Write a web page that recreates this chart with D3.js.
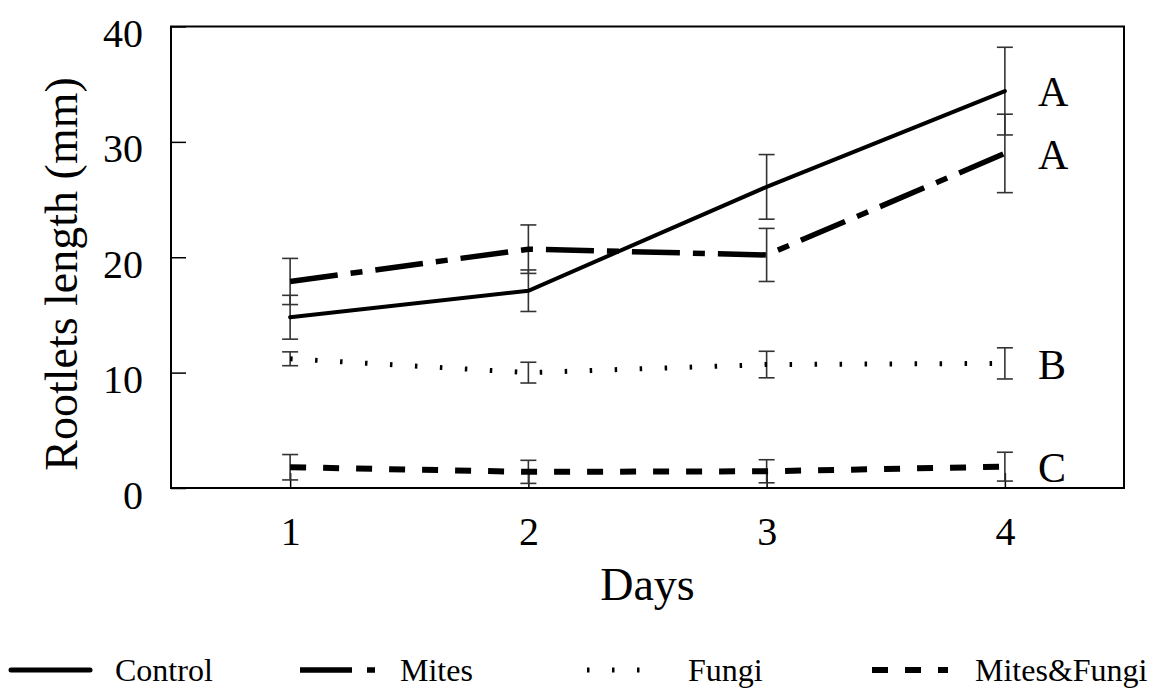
<!DOCTYPE html>
<html>
<head>
<meta charset="utf-8">
<script src="https://cdn.jsdelivr.net/npm/d3@7"></script>
<style>
  body { margin: 0; background: #fff; }
  svg text { font-family: "Liberation Serif", "Times New Roman", serif; fill: #000; }
</style>
</head>
<body>
<div id="graphic"></div>
<script>
// DATA
var days = [1, 2, 3, 4];
var yTicks = [0, 10, 20, 30, 40];

var control = [14.8, 17.1, 26.1, 34.4];
var controlErr = [1.9, 1.8, 2.8, 3.8];
var mites = [17.9, 20.7, 20.2, 29.0];
var mitesErr = [2.0, 2.1, 2.3, 3.4];
var fungi = [11.2, 10.0, 10.7, 10.8];
var fungiErr = [0.6, 0.9, 1.15, 1.35];
var mitesFungi = [1.8, 1.4, 1.45, 1.85];
var mitesFungiErr = [1.1, 1.0, 1.0, 1.25];

var seriesNames = ["Control", "Mites", "Fungi", "Mites&Fungi"];
var groupLetters = ["A", "A", "B", "C"];

// line styles per series
var styles = [
  { width: 4, dash: null, cap: "round" },
  { width: 5.5, dash: "48,13,12,13", cap: "butt" },
  { width: 5, dash: "2.5,22.5", cap: "butt" },
  { width: 6, dash: "16,17", cap: "butt" }
];

var series = seriesNames.map(function (name, i) {
  var vals = [control, mites, fungi, mitesFungi][i];
  var errs = [controlErr, mitesErr, fungiErr, mitesFungiErr][i];
  return {
    name: name,
    letter: groupLetters[i],
    style: styles[i],
    points: days.map(function (d, j) { return { day: d, value: vals[j], err: errs[j] }; })
  };
});

var W = 1150, H = 689;
var margin = { top: 26.5, right: 26, bottom: 201, left: 171 };
var width = W - margin.left - margin.right,
    height = H - margin.top - margin.bottom;

var svg = d3.select("#graphic").append("svg")
    .attr("width", W)
    .attr("height", H);

var g = svg.append("g")
    .attr("transform", "translate(" + margin.left + "," + margin.top + ")");

var xScale = d3.scaleLinear().domain([0.5, 4.5]).range([0, width]);
var yScale = d3.scaleLinear().domain([0, 40]).range([height, 0]);

// AXES (ticks inward)
var yAxis = d3.axisLeft(yScale).tickValues(yTicks).tickSize(-15).tickPadding(28);
var yG = g.append("g").call(yAxis);
yG.select(".domain").remove();
yG.selectAll(".tick line").attr("stroke", "#000").attr("stroke-width", 1.5);
yG.selectAll(".tick text").attr("font-size", 40).attr("dy", "0.5em")
  .style("font-family", "Liberation Serif");

var xAxis = d3.axisBottom(xScale).tickValues(days).tickSize(-15).tickPadding(28.5)
    .tickFormat(d3.format("d"));
var xG = g.append("g").attr("transform", "translate(0," + height + ")").call(xAxis);
xG.select(".domain").remove();
xG.selectAll(".tick line").attr("stroke", "#000").attr("stroke-width", 1.5);
xG.selectAll(".tick text").attr("font-size", 40)
  .style("font-family", "Liberation Serif");

// frame
g.append("rect")
    .attr("x", 0).attr("y", 0)
    .attr("width", width).attr("height", height)
    .attr("fill", "none")
    .attr("stroke", "#000")
    .attr("stroke-width", 2);

// ERROR BARS
var capW = 8;
series.forEach(function (s) {
  var eb = g.append("g").attr("stroke", "#333").attr("stroke-width", 1.6);
  s.points.forEach(function (p) {
    var x = xScale(p.day), y1 = yScale(p.value + p.err), y0 = yScale(p.value - p.err);
    eb.append("line").attr("x1", x).attr("x2", x).attr("y1", y1).attr("y2", y0);
    eb.append("line").attr("x1", x - capW).attr("x2", x + capW).attr("y1", y1).attr("y2", y1);
    eb.append("line").attr("x1", x - capW).attr("x2", x + capW).attr("y1", y0).attr("y2", y0);
  });
});

// LINES
var line = d3.line().x(function (d) { return xScale(d.day); }).y(function (d) { return yScale(d.value); });
series.forEach(function (s) {
  g.append("path")
    .datum(s.points)
    .attr("d", line)
    .attr("fill", "none")
    .attr("stroke", "#000")
    .attr("stroke-width", s.style.width)
    .attr("stroke-linecap", s.style.cap)
    .attr("stroke-dasharray", s.style.dash);
});

// group letters at day 4
series.forEach(function (s) {
  var last = s.points[s.points.length - 1];
  g.append("text")
    .attr("x", xScale(last.day) + 33)
    .attr("y", yScale(last.value))
    .attr("dy", "0.36em")
    .attr("font-size", 42)
    .text(s.letter);
});

// axis titles
svg.append("text")
    .attr("x", margin.left + width / 2)
    .attr("y", 600)
    .attr("text-anchor", "middle")
    .attr("font-size", 46)
    .text("Days");

svg.append("text")
    .attr("transform", "translate(77," + 274 + ") rotate(-90)")
    .attr("text-anchor", "middle")
    .attr("font-size", 46)
    .text("Rootlets length (mm)");

// LEGEND
var legendX = [11, 300, 587, 872];
var legendLen = [79, 75, 75, 76];
var legendTextX = [115, 400, 688, 975];
var legendY = 670;
var lg = svg.append("g");
series.forEach(function (s, i) {
  lg.append("line")
    .attr("x1", legendX[i]).attr("x2", legendX[i] + legendLen[i])
    .attr("y1", legendY).attr("y2", legendY)
    .attr("stroke", "#000")
    .attr("stroke-width", i === 0 ? 5 : s.style.width)
    .attr("stroke-linecap", s.style.cap)
    .attr("stroke-dasharray", i === 1 ? "52,15,8,15" : s.style.dash);
  lg.append("text")
    .attr("x", legendTextX[i])
    .attr("y", 681)
    .attr("font-size", 32)
    .text(s.name);
});
</script>
</body>
</html>
